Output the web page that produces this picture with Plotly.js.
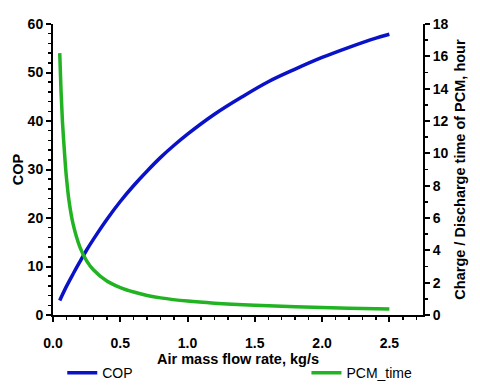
<!DOCTYPE html>
<html>
<head>
<meta charset="utf-8">
<script src="https://cdn.plot.ly/plotly-3.0.1.min.js"></script>
<style>
  html, body { margin: 0; padding: 0; background: #fff; }
  #chart { width: 480px; height: 388px; }
</style>
</head>
<body>
<div id="chart"></div>
<script>
// values
var copFlow = [0.05, 0.1, 0.15, 0.2, 0.25, 0.3, 0.4, 0.5, 0.6, 0.7, 0.8, 0.9, 1.0,
               1.2, 1.4, 1.6, 1.8, 2.0, 2.2, 2.4, 2.5];
var copValues = [3.0, 5.9, 8.5, 11.0, 13.4, 15.6, 19.7, 23.4, 26.7, 29.7, 32.5, 35.0, 37.3,
                 41.4, 44.9, 48.1, 50.7, 53.1, 55.2, 57.1, 57.9];

var pcmFlow = [0.05, 0.06, 0.07, 0.08, 0.09, 0.1, 0.12, 0.15, 0.2, 0.25, 0.3, 0.4, 0.5,
               0.6, 0.7, 0.8, 1.0, 1.2, 1.5, 1.8, 2.0, 2.2, 2.5];
var pcmHours = [16.2, 13.8, 12.0, 10.7, 9.5, 8.5, 7.0, 5.6, 4.2, 3.35, 2.8, 2.1, 1.7,
                1.42, 1.21, 1.06, 0.86, 0.73, 0.6, 0.51, 0.46, 0.42, 0.37];

var xTicks = [0, 0.5, 1.0, 1.5, 2.0, 2.5];

var tickFont = { family: 'Liberation Sans, Arial, sans-serif', size: 14, color: '#000', weight: 'bold' };
var titleFont = { family: 'Liberation Sans, Arial, sans-serif', size: 14.5, color: '#000', weight: 'bold' };
var legendFont = { family: 'Liberation Sans, Arial, sans-serif', size: 14, color: '#000' };

var trace1 = {
    x: copFlow,
    y: copValues,
    mode: 'lines',
    type: 'scatter',
    name: 'COP',
    line: { color: '#0a12c8', width: 3.5, shape: 'spline' },
    yaxis: 'y',
    legend: 'legend'
};

var trace2 = {
    x: pcmFlow,
    y: pcmHours,
    mode: 'lines',
    type: 'scatter',
    name: 'PCM_time',
    line: { color: '#22b322', width: 3.5, shape: 'spline' },
    yaxis: 'y2',
    legend: 'legend2'
};

var layout = {
    width: 480,
    height: 388,
    margin: { l: 53, r: 57, t: 24, b: 73, autoexpand: false },
    plot_bgcolor: '#fff',
    paper_bgcolor: '#fff',
    showlegend: true,
    legend: {
        orientation: 'h',
        x: 0.025, y: -0.145,
        xanchor: 'left', yanchor: 'top',
        font: legendFont
    },
    legend2: {
        orientation: 'h',
        x: 0.685, y: -0.145,
        xanchor: 'left', yanchor: 'top',
        font: legendFont
    },
    xaxis: {
        range: [0, 2.75],
        tickvals: xTicks,
        tickformat: '.1f',
        showgrid: false,
        zeroline: false,
        showline: true,
        linecolor: '#000',
        linewidth: 2,
        ticks: 'outside',
        ticklen: 5,
        tickwidth: 2,
        tickcolor: '#000',
        ticklabelstandoff: 9,
        tickfont: tickFont,
        minor: { dtick: 0.1, ticks: 'outside', ticklen: 3, tickwidth: 1.5, tickcolor: '#000', showgrid: false },
        title: { text: 'Air mass flow rate, kg/s', font: titleFont, standoff: 0 }
    },
    yaxis: {
        range: [0, 60],
        dtick: 10,
        showgrid: false,
        zeroline: false,
        showline: true,
        linecolor: '#000',
        linewidth: 2,
        ticks: 'outside',
        ticklen: 5,
        tickwidth: 2,
        tickcolor: '#000',
        tickfont: tickFont,
        minor: { dtick: 2, ticks: 'outside', ticklen: 3, tickwidth: 1.5, tickcolor: '#000', showgrid: false },
        title: { text: 'COP', font: titleFont, standoff: 1 }
    },
    yaxis2: {
        range: [0, 18],
        dtick: 2,
        overlaying: 'y',
        side: 'right',
        showgrid: false,
        zeroline: false,
        showline: true,
        linecolor: '#000',
        linewidth: 2,
        ticks: 'outside',
        ticklen: 5,
        tickwidth: 2,
        tickcolor: '#000',
        tickfont: tickFont,
        minor: { dtick: 1, ticks: 'outside', ticklen: 3, tickwidth: 1.5, tickcolor: '#000', showgrid: false },
        title: { text: 'Charge / Discharge time of PCM, hour', font: titleFont, standoff: 7 }
    }
};

Plotly.newPlot('chart', [trace1, trace2], layout, { displayModeBar: false, staticPlot: true });
</script>
</body>
</html>
